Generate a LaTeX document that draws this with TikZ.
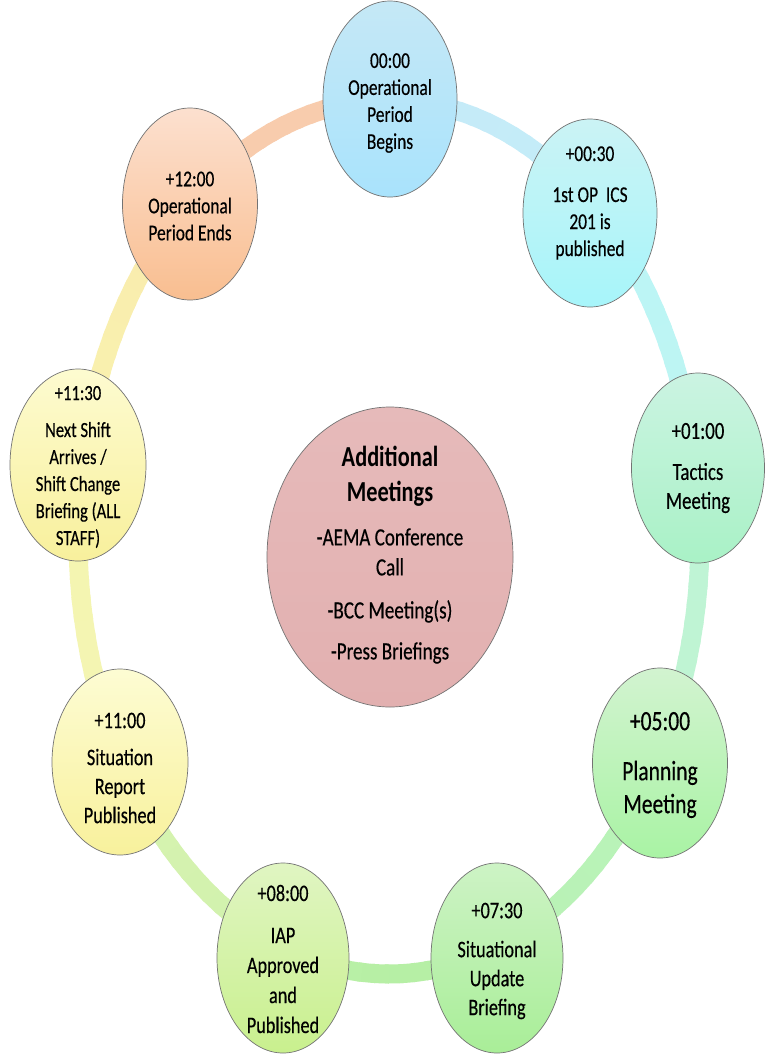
\documentclass[tikz,border=0pt]{standalone}
\usepackage{fontspec}
\setmainfont{Carlito}[FakeStretch=0.77, UprightFeatures={FakeBold=0.35}]
\usetikzlibrary{shapes.geometric}
\definecolor{rA}{HTML}{C6EAF8}
\definecolor{rB}{HTML}{BCF5F8}
\definecolor{rC}{HTML}{C0F4D8}
\definecolor{rD}{HTML}{BAF3BA}
\definecolor{rE}{HTML}{B3EFA4}
\definecolor{rF}{HTML}{CFF2AE}
\definecolor{rG}{HTML}{F3F5B2}
\definecolor{rH}{HTML}{F9F4AE}
\definecolor{rI}{HTML}{F8CCAD}
\definecolor{aT}{HTML}{C5E8F6}\definecolor{aB}{HTML}{A9E3FC}
\definecolor{bT}{HTML}{CBF3F5}\definecolor{bB}{HTML}{A7F5FA}
\definecolor{cT}{HTML}{CBF3E2}\definecolor{cB}{HTML}{A9F2C6}
\definecolor{dT}{HTML}{D2F3D0}\definecolor{dB}{HTML}{A9F3A4}
\definecolor{eT}{HTML}{CDF3C5}\definecolor{eB}{HTML}{A9EE98}
\definecolor{fT}{HTML}{E0F5C2}\definecolor{fB}{HTML}{C9F08E}
\definecolor{gT}{HTML}{FDFCD3}\definecolor{gB}{HTML}{F8F19C}
\definecolor{hT}{HTML}{FDFBD0}\definecolor{hB}{HTML}{F8F09C}
\definecolor{iT}{HTML}{FCE0CF}\definecolor{iB}{HTML}{F9BE90}
\definecolor{mT}{HTML}{E6BABA}\definecolor{mB}{HTML}{E2B0B0}
\tikzset{
  bub/.style={ellipse, draw=black!55, line width=0.7pt, inner sep=0pt, minimum width=134pt, minimum height=192pt},
  txt/.style={align=center, inner sep=0pt, text=black},
  ringseg/.style={line width=19pt, line cap=butt}
}
\begin{document}
\begin{tikzpicture}[x=1pt,y=-1pt]
\useasboundingbox[fill=white] (0,0) rectangle (766,1058);
% ring
\foreach \s/\e/\ca/\cb in {90/49/rA/rB, 49/9/rB/rC, 9/-31/rC/rD, -31/-70/rD/rE, -70/-110/rE/rF, -110/-149/rF/rG, -149/-189/rG/rH, -189/-230/rH/rI, -230/-270/rI/rI}{
  \foreach \k in {0,...,15}{
    \pgfmathsetmacro\ta{\s+(\e-\s)*\k/16}
    \pgfmathsetmacro\tb{\s+(\e-\s)*(\k+1.3)/16}
    \pgfmathtruncatemacro\p{100-25*\k/15}
    \draw[ringseg, draw=\ca!\p!\cb] plot[domain=\ta:\tb, samples=4] ({389+311*cos(\x)},{537-437*sin(\x)});
  }
}
% bubbles
\node[bub, minimum height=196pt, top color=aT, bottom color=aB] (n1) at (390,99) {};
\node[bub, minimum height=188pt, top color=bT, bottom color=bB] (n2) at (590,213) {};
\node[bub, minimum width=133pt, minimum height=190pt, top color=cT, bottom color=cB] (n3) at (698,468) {};
\node[bub, minimum width=135pt, minimum height=190pt, top color=dT, bottom color=dB] (n4) at (660,763) {};
\node[bub, minimum width=132pt, minimum height=190pt, top color=eT, bottom color=eB] (n5) at (497,958) {};
\node[bub, minimum width=132pt, minimum height=190pt, top color=fT, bottom color=fB] (n6) at (283,958) {};
\node[bub, minimum width=136pt, minimum height=186pt, top color=gT, bottom color=gB] (n7) at (120,762) {};
\node[bub, minimum width=136pt, minimum height=192pt, top color=hT, bottom color=hB] (n8) at (78,465) {};
\node[bub, minimum width=135pt, minimum height=192pt, top color=iT, bottom color=iB] (n9) at (190,204) {};
\node[bub, minimum width=246pt, minimum height=300pt, top color=mT, bottom color=mB] (nc) at (390,557) {};
% texts
\node[txt, font=\fontsize{22.6}{27}\selectfont] (t1) at (n1.center) [yshift=-4pt] {00:00\\Operational\\Period\\Begins};
\node[txt, font=\fontsize{22.6}{27}\selectfont] (t2) at (590,203) {+00:30\\[14pt]1st OP\ \ ICS\\201 is\\published};
\node[txt, font=\fontsize{24.5}{29}\selectfont] (t3) at (n3.center) {+01:00\\[12pt]Tactics\\Meeting};
\node[txt, font=\fontsize{28}{33}\selectfont] (t4) at (660,765) {+05:00\\[17pt]Planning\\Meeting};
\node[txt, font=\fontsize{23.7}{29}\selectfont] (t5) at (497,961) {+07:30\\[10pt]Situational\\Update\\Briefing};
\node[txt, font=\fontsize{23.7}{30}\selectfont] (t6) at (283,959) {+08:00\\[12pt]IAP\\Approved\\and\\Published};
\node[txt, font=\fontsize{23.7}{29}\selectfont] (t7) at (120,768) {+11:00\\[8pt]Situation\\Report\\Published};
\node[txt, font=\fontsize{21.6}{27}\selectfont] (t8) at (78,467) {+11:30\\[10pt]Next Shift\\Arrives /\\Shift Change\\Briefing (ALL\\STAFF)};
\node[txt, font=\fontsize{22.6}{27}\selectfont] (t9) at (190,206) {+12:00\\Operational\\Period Ends};
\node[txt, font=\fontsize{29}{35}\selectfont\bfseries] (tc1) at (390,476) {Additional\\Meetings};
\node[txt, font=\fontsize{24.8}{30}\selectfont] (tc2) at (390,596) {-AEMA Conference\\Call\\[13pt]-BCC Meeting(s)\\[11pt]-Press Briefings};
\end{tikzpicture}
\end{document}
